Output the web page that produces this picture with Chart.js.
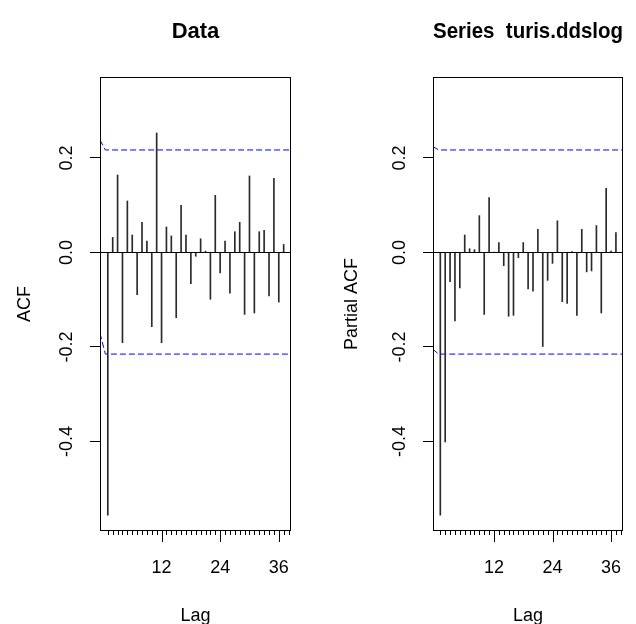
<!DOCTYPE html>
<html>
<head>
<meta charset="utf-8">
<title>ACF / PACF</title>
<script src="https://cdn.jsdelivr.net/npm/chart.js@4.4.1/dist/chart.umd.min.js"></script>
<style>
  body { margin: 0; background: #fff; }
  #wrap { position: relative; width: 636px; height: 624px; }
  canvas { position: absolute; top: 0; }
</style>
</head>
<body>
<div id="wrap">
  <canvas id="acf" width="318" height="624" style="left:0"></canvas>
  <canvas id="pacf" width="318" height="624" style="left:318px"></canvas>
</div>
<script>
// lags shown in both panels
const lags = [1, 2, 3, 4, 5, 6, 7, 8, 9, 10, 11, 12, 13, 14, 15, 16, 17, 18, 19,
  20, 21, 22, 23, 24, 25, 26, 27, 28, 29, 30, 31, 32, 33, 34, 35, 36, 37]

const acfValues = [-0.556, 0.032, 0.164, -0.191, 0.109, 0.037, -0.089, 0.064, 0.024, -0.157,
  0.253, -0.191, 0.054, 0.035, -0.138, 0.100, 0.037, -0.066, -0.008, 0.029,
  0.003, -0.099, 0.121, -0.043, 0.024, -0.086, 0.044, 0.064, -0.131, 0.162,
  -0.128, 0.044, 0.047, -0.092, 0.157, -0.105, 0.017]

const pacfValues = [-0.556, -0.401, -0.062, -0.145, -0.075, 0.037, 0.008, 0.006, 0.078, -0.131,
  0.116, 0.001, 0.021, -0.028, -0.135, -0.133, -0.011, 0.021, -0.077, -0.082,
  0.049, -0.199, -0.059, -0.023, 0.067, -0.104, -0.108, 0.002, -0.133, 0.049,
  -0.041, -0.039, 0.057, -0.128, 0.136, 0.003, 0.042]

// blue dashed significance bounds (slanted at the start, then flat)
const acfBandX = [-0.6, 0.5, 38.5]
const acfUpper = [0.238, 0.217, 0.217]
const acfLower = [-0.171, -0.215, -0.215]
const pacfBandX = [-0.5, 0.67, 38.45]
const pacfUpper = [0.224, 0.217, 0.217]
const pacfLower = [-0.205, -0.215, -0.215]

const yTickValues = [-0.4, -0.2, 0, 0.2]
const minorTickLags = [1, 2, 3, 4, 5, 6, 7, 8, 9, 10, 11, 12, 13, 14, 15, 16, 17, 18, 19,
  20, 21, 22, 23, 24, 25, 26, 27, 28, 29, 30, 31, 32, 33, 34, 35, 36, 37, 38]
const majorTickLags = [12, 24, 36]

const FONT = '"Liberation Sans", Arial, Helvetica, sans-serif'

// R-style frame: box, minor/major lag ticks, rotated y labels
const rFrame = {
  id: 'rFrame',
  afterDraw(chart, args, opts) {
    const { ctx, chartArea: a, scales: { x, y } } = chart
    ctx.save()
    ctx.strokeStyle = '#000'
    ctx.lineWidth = 1
    ctx.strokeRect(a.left + 0.5, a.top + 0.5, a.right - a.left - 1, a.bottom - a.top - 1)

    ctx.beginPath()
    minorTickLags.forEach(l => {
      const px = Math.round(x.getPixelForValue(l)) + 0.5
      const len = majorTickLags.includes(l) ? 11 : 4
      ctx.moveTo(px, a.bottom)
      ctx.lineTo(px, a.bottom + len)
    })
    ctx.stroke()

    ctx.fillStyle = '#000'
    ctx.font = '18px ' + FONT
    ctx.textAlign = 'center'
    ctx.textBaseline = 'middle'
    yTickValues.forEach(v => {
      ctx.save()
      ctx.translate(opts.labelX, y.getPixelForValue(v))
      ctx.rotate(-Math.PI / 2)
      ctx.fillText(v.toFixed(1), 0, 0)
      ctx.restore()
    })
    ctx.restore()
  }
}

function makeChart(id, cfg) {
  return new Chart(document.getElementById(id), {
    type: 'line',
    data: {
      datasets: [
        {
          type: 'bar',
          data: lags.map((l, i) => ({ x: l, y: cfg.values[i] })),
          backgroundColor: '#2a2a2a',
          borderWidth: 0,
          barThickness: 1
        },
        {
          data: cfg.bandX.map((v, i) => ({ x: v, y: cfg.upper[i] })),
          borderColor: '#0000ff',
          borderWidth: 1,
          borderDash: [6, 3],
          pointRadius: 0,
          fill: false
        },
        {
          data: cfg.bandX.map((v, i) => ({ x: v, y: cfg.lower[i] })),
          borderColor: '#0000ff',
          borderWidth: 1,
          borderDash: [6, 3],
          pointRadius: 0,
          fill: false
        }
      ]
    },
    options: {
      responsive: false,
      animation: false,
      devicePixelRatio: 1,
      layout: { padding: { left: 0, right: cfg.padRight, top: 0, bottom: 0 } },
      plugins: {
        legend: { display: false },
        tooltip: { enabled: false },
        title: {
          display: true,
          text: cfg.title,
          fullSize: false,
          color: '#000',
          font: { family: FONT, size: 22, weight: 'bold' },
          padding: { top: 19, bottom: 31.6 }
        },
        rFrame: { labelX: cfg.labelX }
      },
      scales: {
        x: {
          type: 'linear',
          min: cfg.xMin,
          max: cfg.xMax,
          offset: false,
          afterBuildTicks: s => { s.ticks = majorTickLags.map(v => ({ value: v })) },
          ticks: {
            color: '#000',
            font: { family: FONT, size: 18 },
            padding: 0,
            maxRotation: 0,
            autoSkip: false,
            callback: v => String(v)
          },
          // invisible tick marks only push the labels down; real ticks are drawn by rFrame
          grid: {
            display: true,
            drawOnChartArea: false,
            drawTicks: true,
            tickLength: 26,
            tickColor: 'rgba(0,0,0,0)'
          },
          border: { display: false },
          title: {
            display: true,
            text: 'Lag',
            color: '#000',
            font: { family: FONT, size: 18 },
            padding: { top: 0, bottom: -3 }
          },
          afterFit: s => { s.height = 93 }
        },
        y: {
          min: -0.5894,
          max: 0.3714,
          afterBuildTicks: s => { s.ticks = yTickValues.map(v => ({ value: v })) },
          ticks: { display: false },
          grid: {
            color: c => (c.tick && c.tick.value === 0 ? '#000' : 'rgba(0,0,0,0)'),
            lineWidth: 1,
            drawTicks: true,
            tickLength: 10,
            tickColor: '#000'
          },
          border: { display: false },
          title: {
            display: true,
            text: cfg.yTitle,
            color: '#000',
            font: { family: FONT, size: 18 },
            padding: { top: cfg.yTitlePad, bottom: 0 }
          },
          afterFit: s => { s.width = cfg.yWidth }
        }
      }
    },
    plugins: [rFrame]
  })
}

makeChart('acf', {
  title: 'Data',
  yTitle: 'ACF',
  values: acfValues,
  bandX: acfBandX,
  upper: acfUpper,
  lower: acfLower,
  xMin: -0.6,
  xMax: 38.5,
  yWidth: 100,
  padRight: 27,
  labelX: 67,
  yTitlePad: 14
})

makeChart('pacf', {
  title: 'Series  turis.ddslog',
  yTitle: 'Partial ACF',
  values: pacfValues,
  bandX: pacfBandX,
  upper: pacfUpper,
  lower: pacfLower,
  xMin: -0.5,
  xMax: 38.45,
  yWidth: 115,
  padRight: 13,
  labelX: 82.5,
  yTitlePad: 23
})
</script>
</body>
</html>
